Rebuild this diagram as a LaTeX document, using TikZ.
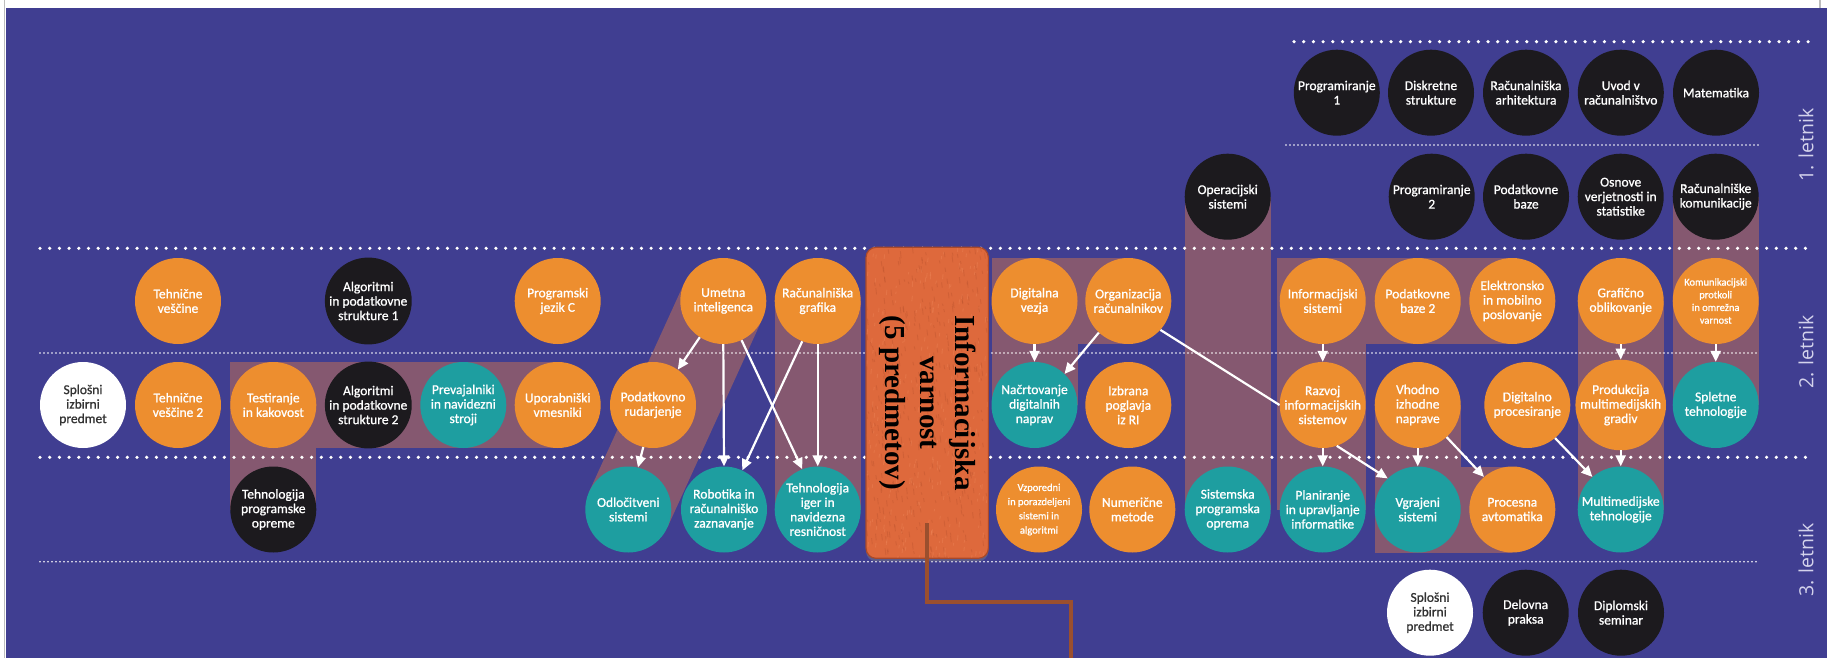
\documentclass[tikz,border=0pt]{standalone}
\usepackage{fontspec}
\setmainfont{Carlito}
\newfontfamily\nodefont{Carlito}[FakeBold=1]
\newfontfamily\ivfont{Liberation Serif}
\newfontfamily\letfont{Open Sans}
\usetikzlibrary{arrows.meta,shadows,calc}
\pgfdeclarelayer{bglayer}
\pgfdeclarelayer{bandlayer}
\pgfdeclarelayer{dotlayer}
\pgfsetlayers{bglayer,bandlayer,dotlayer,main}
\definecolor{bgblue}{HTML}{403E91}
\definecolor{corange}{HTML}{ED8E2F}
\definecolor{cteal}{HTML}{1E9EA0}
\definecolor{cblack}{HTML}{1C1A1E}
\definecolor{mauve}{HTML}{855870}
\definecolor{ivbox}{HTML}{DE693C}
\definecolor{ivdark}{HTML}{B24E2A}
\definecolor{ivlight}{HTML}{F08A5C}
\definecolor{ivborder}{HTML}{A9492A}
\definecolor{brownline}{HTML}{9B4F2E}
\definecolor{lettxt}{HTML}{D4D3EC}
\definecolor{darktxt}{HTML}{333333}
\definecolor{bordergrey}{HTML}{BDBDBD}
\begin{document}
\begin{tikzpicture}[x=1pt,y=-1pt,
  subj/.style={circle,minimum size=86pt,inner sep=0pt,align=center,text=white,
    font=\nodefont\fontsize{13.5}{14.5}\selectfont},
  orng/.style={subj,fill=corange},
  tealnode/.style={subj,fill=cteal},
  blk/.style={subj,fill=cblack},
  wht/.style={subj,fill=white,text=darktxt},
  smalltxt/.style={font=\nodefont\fontsize{10.5}{12.7}\selectfont},
  smalltxtb/.style={font=\nodefont\fontsize{10.5}{14.2}\selectfont},
  arr/.style={draw=white,line width=2.2pt,-{Triangle[length=11pt,width=10pt]}},
  wline/.style={draw=white,line width=2.2pt},
  bigdots/.style={draw=white,line width=3.6pt,line cap=round,dash pattern=on 0pt off 9.7pt},
  finedots/.style={draw=white,line width=1.8pt,line cap=round,dash pattern=on 0pt off 4pt},
  letnik/.style={rotate=90,text=lettxt,font=\letfont\fontsize{19.5}{22}\selectfont},
  bandfill/.style={fill=mauve},
]
\useasboundingbox (0,0) rectangle (1827,658);
\begin{pgfonlayer}{bglayer}
  \fill[white] (0,0) rectangle (1827,658);
  \fill[bgblue] (5.5,8) rectangle (1827,658);
  \draw[bordergrey,line width=1.4pt] (4.6,0) -- (4.6,658);
  \draw[bordergrey,line width=1.4pt] (1820,0) -- (1820,8);
\end{pgfonlayer}

% ---------- year 1 ----------
\node[blk] (p1)   at (1336.8,92.7) {Programiranje\\1};
\node[blk] (dstr) at (1431,92.7)   {Diskretne\\strukture};
\node[blk] (rarh) at (1526,92.7)   {Računalniška\\arhitektura};
\node[blk] (uvod) at (1620.8,92.7) {Uvod v\\računalništvo};
\node[blk] (mat)  at (1716,92.7)   {Matematika};
\node[blk] (ops)  at (1227.7,196.7){Operacijski\\sistemi};
\node[blk] (p2)   at (1431.7,196.7){Programiranje\\2};
\node[blk] (pbaze) at (1526,196.7) {Podatkovne\\baze};
\node[blk] (ovs)  at (1620.7,196.7){Osnove\\verjetnosti in\\statistike};
\node[blk] (rkom) at (1715.7,196.7){Računalniške\\komunikacije};

% ---------- year 2, row 1 ----------
\node[orng] (tv)    at (178,301)    {Tehnične\\veščine};
\node[blk]  (apds1) at (368.3,301)  {Algoritmi\\in podatkovne\\strukture 1};
\node[orng] (pjc)   at (557.7,301)  {Programski\\jezik C};
\node[orng] (ui)    at (723.3,301)  {Umetna\\inteligenca};
\node[orng] (rg)    at (817.7,301)  {Računalniška\\grafika};
\node[orng] (dv)    at (1034.5,301) {Digitalna\\vezja};
\node[orng] (orgr)  at (1128.3,301) {Organizacija\\računalnikov};
\node[orng] (isys)  at (1322.7,301) {Informacijski\\sistemi};
\node[orng] (pb2)   at (1417.7,301) {Podatkovne\\baze 2};
\node[orng] (emp)   at (1512.3,301) {Elektronsko\\in mobilno\\poslovanje};
\node[orng] (gobl)  at (1620.7,301) {Grafično\\oblikovanje};
\node[orng,smalltxt] (kpov) at (1715.7,301) {Komunikacijski\\protkoli\\in omrežna\\varnost};

% ---------- year 2, row 2 ----------
\node[wht]      (spl1)  at (83,405)     {Splošni\\izbirni\\predmet};
\node[orng]     (tv2)   at (178,405)    {Tehnične\\veščine 2};
\node[orng]     (tik)   at (273.3,405)  {Testiranje\\in kakovost};
\node[blk]      (apds2) at (368.3,405)  {Algoritmi\\in podatkovne\\strukture 2};
\node[tealnode] (pnv)   at (463.3,405)  {Prevajalniki\\in navidezni\\stroji};
\node[orng]     (uvm)   at (557.7,405)  {Uporabniški\\vmesniki};
\node[orng]     (prud)  at (653,405)    {Podatkovno\\rudarjenje};
\node[tealnode] (ndn)   at (1034.5,405) {Načrtovanje\\digitalnih\\naprav};
\node[orng]     (ipri)  at (1128.3,405) {Izbrana\\poglavja\\iz RI};
\node[orng]     (ris)   at (1322.7,405) {Razvoj\\informacijskih\\sistemov};
\node[orng]     (vin)   at (1417.7,405) {Vhodno\\izhodne\\naprave};
\node[orng]     (dproc) at (1527.3,405) {Digitalno\\procesiranje};
\node[orng]     (pmg)   at (1620.7,405) {Produkcija\\multimedijskih\\gradiv};
\node[tealnode] (splt)  at (1715.7,405) {Spletne\\tehnologije};

% ---------- year 3, row 1 ----------
\node[blk]      (tpo)  at (273.3,509.5)  {Tehnologija\\programske\\opreme};
\node[tealnode] (ods)  at (628.3,509.5)  {Odločitveni\\sistemi};
\node[tealnode] (rrz)  at (724,509.5)    {Robotika in\\računalniško\\zaznavanje};
\node[tealnode] (tiin) at (817.7,509.5)  {Tehnologija\\iger in\\navidezna\\resničnost};
\node[orng,smalltxtb] (vpsa) at (1039,509.5) {Vzporedni\\in porazdeljeni\\sistemi in\\algoritmi};
\node[orng]     (nm)   at (1132.3,509.5) {Numerične\\metode};
\node[tealnode] (spo)  at (1227.7,509.5) {Sistemska\\programska\\oprema};
\node[tealnode] (pui)  at (1322.7,509.5) {Planiranje\\in upravljanje\\informatike};
\node[tealnode] (vsys) at (1417.7,509.5) {Vgrajeni\\sistemi};
\node[orng]     (pavt) at (1512.3,509.5) {Procesna\\avtomatika};
\node[tealnode] (mmt)  at (1620.7,509.5) {Multimedijske\\tehnologije};

% ---------- year 3, row 2 ----------
\node[wht] (spl2)  at (1430,612.7)   {Splošni\\izbirni\\predmet};
\node[blk] (dprak) at (1525.7,612.7) {Delovna\\praksa};
\node[blk] (dsem)  at (1621,612.7)   {Diplomski\\seminar};

% ---------- mauve bands ----------
\begin{pgfonlayer}{bandlayer}
  \fill[bandfill] (230.3,362) rectangle (557.7,448);
  \fill[bandfill] (230.3,362) rectangle (316.3,509.5);
  \draw[mauve,line width=86pt] (ui.center) -- (ods.center);
  \fill[bandfill] (774.7,301) rectangle (860.7,509.5);
  \fill[bandfill] (991.5,258) rectangle (1128.3,344);
  \fill[bandfill] (991.5,258) rectangle (1077.5,405);
  \fill[bandfill] (1184.7,196.7) rectangle (1270.7,509.5);
  \fill[bandfill] (1276.5,258) rectangle (1512.3,344);
  \fill[bandfill] (1276.5,258) rectangle (1366.2,509.5);
  \fill[bandfill] (1374.7,405) rectangle (1460.7,552.5);
  \fill[bandfill] (1374.7,466.5) rectangle (1512.3,552.5);
  \fill[bandfill] (1577.7,301) rectangle (1663.7,509.5);
  \fill[bandfill] (1672.7,196.7) rectangle (1758.7,405);
\end{pgfonlayer}

% ---------- dotted separators ----------
\begin{pgfonlayer}{dotlayer}
  \draw[bigdots]  (1294,41.7) -- (1812,41.7);
  \draw[finedots] (1286,145) -- (1758,145);
  \draw[bigdots]  (40,248.3) -- (1812,248.3);
  \draw[finedots] (40,353) -- (1758,353);
  \draw[bigdots]  (40,457.3) -- (1812,457.3);
  \draw[finedots] (40,561.7) -- (1758,561.7);
\end{pgfonlayer}

% ---------- arrows ----------
\draw[arr] (ui.-123) -- (prud.55);
\draw[arr] (ui.south) -- (rrz.north);
\draw[arr] (ui.-65) -- (tiin.111);
\draw[arr] (rg.-111) -- (rrz.65);
\draw[arr] (rg.south) -- (tiin.north);
\draw[arr] (prud.-103) -- (ods.77);
\draw[arr] (dv.south) -- (ndn.north);
\draw[arr] (orgr.-133) -- (ndn.46);
\draw[wline] (orgr.-42) -- (ris.west);
\draw[arr] (isys.south) -- (ris.north);
\draw[arr] (ris.south) -- (pui.north);
\draw[arr] (ris.-71) -- (vsys.134);
\draw[arr] (vin.south) -- (vsys.north);
\draw[arr] (vin.-48) -- (pavt.131);
\draw[arr] (dproc.-50) -- (mmt.131);
\draw[arr] (gobl.south) -- (pmg.north);
\draw[arr] (pmg.south) -- (mmt.north);
\draw[arr] (kpov.south) -- (splt.north);

% ---------- Informacijska varnost box ----------
\node[draw=ivborder,line width=1.2pt,fill=ivbox,rounded corners=10pt,
      minimum width=122.3pt,minimum height=311pt,inner sep=0pt,
      drop shadow={shadow xshift=0pt,shadow yshift=-3pt,opacity=0.45}]
      (ivbox) at (927.2,402.8) {};
\begin{scope}
  \clip[rounded corners=10pt] (866.6,247.9) rectangle (987.7,557.7);
  \pgfmathsetseed{7}
  \foreach \k in {1,...,420}{
    \pgfmathsetmacro{\xa}{866+122*rnd}
    \pgfmathsetmacro{\ya}{247+312*rnd}
    \pgfmathsetmacro{\tlen}{2+5*rnd}
    \draw[ivdark,opacity=0.3,line width=0.9pt] (\xa,\ya) -- ++(0.7,\tlen);
  }
  \foreach \k in {1,...,300}{
    \pgfmathsetmacro{\xa}{866+122*rnd}
    \pgfmathsetmacro{\ya}{247+312*rnd}
    \pgfmathsetmacro{\tlen}{2+4*rnd}
    \draw[ivlight,opacity=0.35,line width=0.9pt] (\xa,\ya) -- ++(-0.5,\tlen);
  }
\end{scope}
\node[rotate=-90,align=center,text=black,inner sep=0pt,
      font=\ivfont\bfseries\fontsize{29}{35}\selectfont]
      (ivtext) at (ivbox.center) {Informacijska\\varnost\\(5 predmetov)};

% ---------- brown connector ----------
\coordinate (ivstart) at (927.3,523.3);
\coordinate (ivbend) at (1070.7,601.7);
\coordinate (ivend) at (1070.7,658);
\draw[brownline,line width=4pt] (ivstart) |- (ivbend) -- (ivend);

% ---------- year labels ----------
\node[letnik] (l1) at (1806,145) {1. letnik};
\node[letnik] (l2) at (1806,352) {2. letnik};
\node[letnik] (l3) at (1806,560) {3. letnik};
\end{tikzpicture}
\end{document}
